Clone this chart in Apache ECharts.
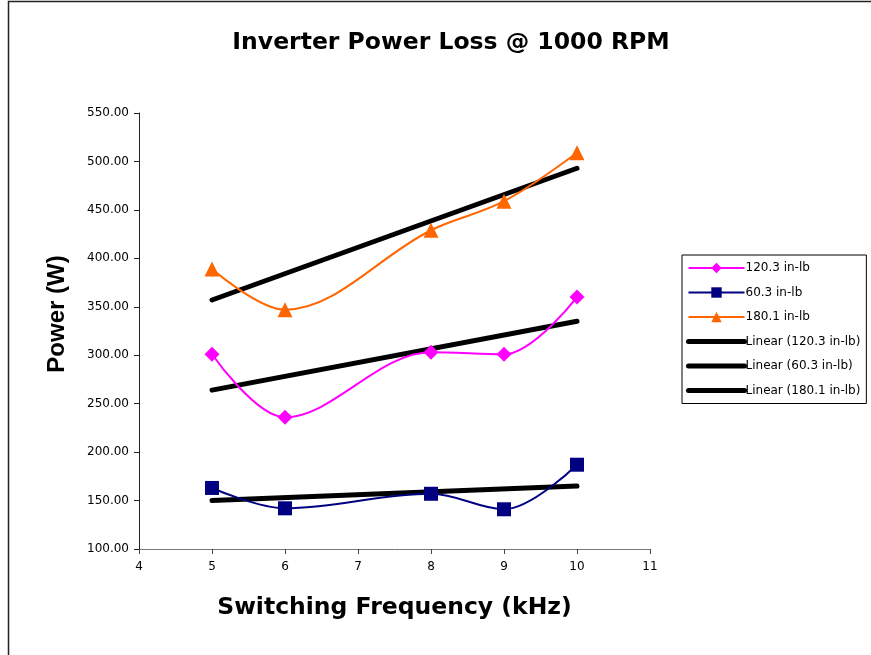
<!DOCTYPE html>
<html>
<head>
<meta charset="utf-8">
<script src="https://cdn.jsdelivr.net/npm/echarts@6/dist/echarts.min.js"></script>
<style>
html,body{margin:0;padding:0;background:#fff;}
#chart{width:871px;height:655px;}
</style>
</head>
<body>
<div id="chart"></div>
<script>
var frequencies = [5, 6, 8, 9, 10];
var loss120 = [301, 236, 303, 301, 360];
var loss60 = [163, 142, 157, 141, 187];
var loss180 = [389, 347, 429, 459, 509];
var trendX = [5, 10];
var trend120 = [264, 335];
var trend60 = [150, 165];
var trend180 = [357, 493];
var seriesNames = ['120.3 in-lb', '60.3 in-lb', '180.1 in-lb', 'Linear (120.3 in-lb)', 'Linear (60.3 in-lb)', 'Linear (180.1 in-lb)'];

function pairs(xs, ys) { return xs.map(function (x, i) { return [x, ys[i]]; }); }

var font = 'DejaVu Sans, Arial, sans-serif';
var chart = echarts.init(document.getElementById('chart'));

function dataSeries(name, data, color, symbol, size) {
  return {
    name: name, type: 'line', data: pairs(frequencies, data), smooth: 0.35,
    symbol: symbol, symbolSize: size,
    lineStyle: { color: color, width: 2 },
    itemStyle: { color: color },
    z: 3
  };
}
function trendSeries(name, data) {
  return {
    name: name, type: 'line', data: pairs(trendX, data),
    symbol: 'none',
    lineStyle: { color: '#000', width: 5, cap: 'round' },
    itemStyle: { color: '#000' },
    z: 2
  };
}

var legendData = seriesNames.map(function (n, i) {
  if (i < 3) return { name: n };
  return { name: n, itemStyle: { color: 'rgba(0,0,0,0)', borderWidth: 0 }, lineStyle: { width: 5, color: '#000', cap: 'round' } };
});

chart.setOption({
  animation: false,
  backgroundColor: '#fff',
  title: {
    text: 'Inverter Power Loss @ 1000 RPM',
    left: 446, top: 26, textAlign: 'center',
    textStyle: { fontFamily: font, fontSize: 23.5, fontWeight: 'bold', color: '#000' }
  },
  graphic: [{
    type: 'rect', shape: { x: 8.5, y: 1.5, width: 900, height: 700 },
    style: { fill: 'none', stroke: '#222', lineWidth: 1.5 }, silent: true, z: -1
  }, {
    type: 'text', x: 57, y: 314, rotation: Math.PI / 2,
    style: { text: 'Power (W)', fill: '#000', font: 'bold 24px "Liberation Sans", Arial, sans-serif',
      align: 'center', verticalAlign: 'middle' }
  }],
  legend: {
    orient: 'vertical', left: 682, top: 255,
    padding: [7, 6, 7, 4],
    itemGap: 12.5, itemWidth: 56, itemHeight: 13,
    borderColor: '#000', borderWidth: 1,
    textStyle: { fontFamily: font, fontSize: 12, color: '#000', padding: [0, 0, 0, -4] },
    data: legendData
  },
  grid: { left: 139, right: 221, top: 113, bottom: 106 },
  xAxis: {
    type: 'value', min: 4, max: 11, interval: 1,
    name: 'Switching Frequency (kHz)', nameLocation: 'middle', nameGap: 47,
    nameTextStyle: { fontFamily: font, fontSize: 23.5, fontWeight: 'bold', color: '#000' },
    axisLine: { lineStyle: { color: '#777' } },
    axisTick: { show: true, inside: false, length: 5, lineStyle: { color: '#444' } },
    axisLabel: { fontFamily: font, fontSize: 12, color: '#000', margin: 12 },
    splitLine: { show: false }
  },
  yAxis: {
    type: 'value', min: 100, max: 550, interval: 50,
    axisLine: { show: true, lineStyle: { color: '#222' } },
    axisTick: { show: true, inside: false, length: 5, lineStyle: { color: '#222' } },
    axisLabel: { fontFamily: font, fontSize: 12, color: '#000', margin: 10,
      formatter: function (v) { return v.toFixed(2); } },
    splitLine: { show: false }
  },
  series: [
    dataSeries(seriesNames[0], loss120, '#FF00FF', 'diamond', 15),
    dataSeries(seriesNames[1], loss60, '#000080', 'rect', 14),
    dataSeries(seriesNames[2], loss180, '#FF6600', 'triangle', 15),
    trendSeries(seriesNames[3], trend120),
    trendSeries(seriesNames[4], trend60),
    trendSeries(seriesNames[5], trend180)
  ]
});
</script>
</body>
</html>
